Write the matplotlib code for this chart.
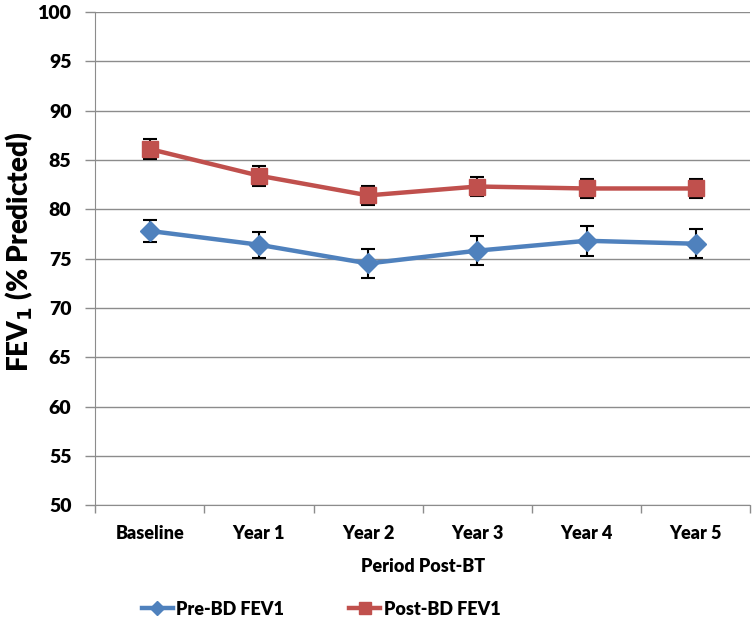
import matplotlib.pyplot as plt
from matplotlib.lines import Line2D
import numpy as np

plt.rcParams['font.family'] = ['Lato', 'DejaVu Sans']
plt.rcParams['font.weight'] = 'heavy'

periods = ['Baseline', 'Year 1', 'Year 2', 'Year 3', 'Year 4', 'Year 5']
pre_bd = [77.8, 76.4, 74.5, 75.8, 76.8, 76.5]
pre_err = [1.1, 1.3, 1.5, 1.5, 1.5, 1.45]
post_bd = [86.1, 83.4, 81.4, 82.3, 82.1, 82.1]
post_err = [1.0, 1.0, 1.0, 1.0, 1.0, 1.0]

blue = '#4F81BD'
red = '#C0504D'
grid = '#8C8C8C'

fig = plt.figure(figsize=(7.56, 6.23), dpi=100)
ax = fig.add_axes([0.1257, 0.189, 0.867, 0.792])

x = np.arange(len(periods))
ax.errorbar(x, pre_bd, yerr=pre_err, color=blue, lw=3.2, marker='D', ms=10,
            ecolor='black', elinewidth=1.5, capsize=5, capthick=1.5, zorder=3)
ax.errorbar(x, post_bd, yerr=post_err, color=red, lw=3.2, marker='s', ms=11,
            ecolor='black', elinewidth=1.5, capsize=5, capthick=1.5, zorder=3)

ax.set_ylim(50, 100)
ax.set_yticks(np.arange(50, 101, 5))
ax.set_xlim(-0.5, len(periods) - 0.5)
ax.set_xticks(x)
ax.set_xticklabels(periods)
ax.set_xticks(np.arange(-0.5, len(periods), 1), minor=True)
ax.tick_params(axis='x', which='major', length=0, pad=14, labelsize=13)
ax.tick_params(axis='x', which='minor', length=6, color=grid, width=1)
ax.tick_params(axis='y', length=7, color=grid, width=1, labelsize=14, pad=10)
ax.yaxis.grid(True, color=grid, lw=1)
ax.set_axisbelow(True)
for s in ['top', 'right']:
    ax.spines[s].set_visible(False)
for s in ['left', 'bottom']:
    ax.spines[s].set_color(grid)

ax.set_xlabel('Period Post-BT', fontsize=13, fontweight='heavy', labelpad=12)
ax.set_ylabel('FEV$_\\mathbf{1}$ (% Predicted)', fontsize=20, fontweight='heavy',
              va='center', ha='center')
ax.yaxis.set_label_coords(-0.115, 0.514)

handles = [Line2D([], [], color=blue, lw=3.2, marker='D', ms=7),
           Line2D([], [], color=red, lw=3.2, marker='s', ms=8)]
labels = ['Pre-BD FEV1', 'Post-BD FEV1']
fig.legend(handles, labels, loc='center', bbox_to_anchor=(0.425, 0.022), ncol=2,
           frameon=False, fontsize=13, columnspacing=3.6, handlelength=1.7,
           handletextpad=0.2)

fig.savefig('out.png', dpi=100)
